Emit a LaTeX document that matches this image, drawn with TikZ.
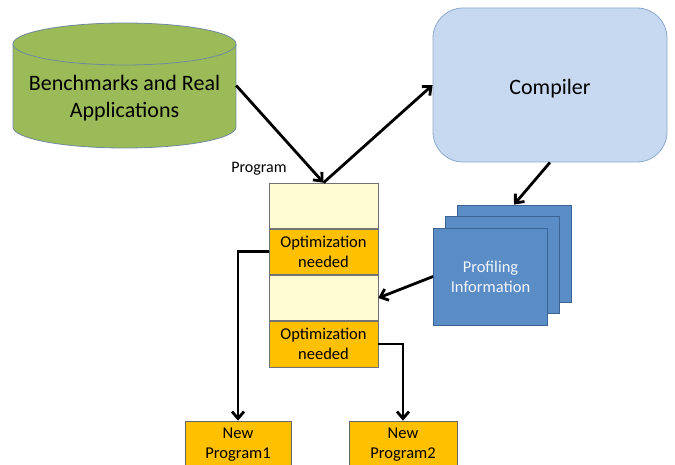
\documentclass[tikz,border=0pt]{standalone}
\usepackage{fontspec}
\setmainfont{Carlito}
\usetikzlibrary{arrows.meta,positioning}

\definecolor{benchfill}{HTML}{9BBB59}
\definecolor{benchedge}{HTML}{6F8A9C}
\definecolor{compfill}{HTML}{C6D9F1}
\definecolor{compedge}{HTML}{8DA9CC}
\definecolor{proffill}{HTML}{5A8CC6}
\definecolor{profedge}{HTML}{3A6496}
\definecolor{progfill}{HTML}{FFFBD2}
\definecolor{optfill}{HTML}{FFC000}

\tikzset{
  flow/.style={line width=2.8pt, -{Straight Barb[length=7pt,width=12pt]}},
  cell/.style={draw=black!55, line width=0.6pt, minimum width=109pt, minimum height=45.5pt,
    inner sep=0pt, align=center, font=\fontsize{16.5}{20}\selectfont},
  progcell/.style={cell, fill=progfill},
  optcell/.style={cell, fill=optfill},
  profpage/.style={draw=profedge, line width=0.8pt, fill=proffill, minimum width=114pt,
    minimum height=97pt, inner sep=0pt},
  newprog/.style={draw=black!60, line width=0.6pt, fill=optfill, minimum height=48pt,
    inner sep=0pt, align=center, font=\fontsize{16.5}{20}\selectfont}
}

\begin{document}
\begin{tikzpicture}[x=1pt,y=-1pt]
\useasboundingbox (0,0) rectangle (675,465);

% benchmark store
\fill[benchfill] (124.5,127) ellipse (111.5 and 21);
\fill[benchfill] (13,44) rectangle (236,127);
\draw[benchedge, line width=0.8pt] (13,44) -- (13,127) arc (180:0:111.5 and 21) -- (236,44);
\draw[benchedge, line width=0.8pt, fill=benchfill] (124.5,44) ellipse (111.5 and 21);
\node[minimum width=223pt, minimum height=125pt, inner sep=0pt] (bench) at (124.5,85.5) {};
\node[align=center, font=\fontsize{22}{27}\selectfont] (benchtxt) at (124.5,98)
  {Benchmarks and Real\\Applications};

% compiler
\node[draw=compedge, line width=0.8pt, fill=compfill, rounded corners=30pt,
  minimum width=234pt, minimum height=154pt, text height=23.5pt, text depth=4.5pt,
  font=\fontsize{22}{26}\selectfont] (comp) at (550,85) {Compiler};

% profile pages
\node[profpage] (prof3) at (514,253.5) {};
\node[profpage] (prof2) at (502.5,265) {};
\node[profpage, align=center, text=white!92!proffill, font=\fontsize{16.5}{20}\selectfont]
  (prof1) at (490.5,276.5) {Profiling\\Information};

% program stack
\node[progcell] (p1) at (323.5,205.75) {};
\node[optcell, below=0pt of p1] (o1) {Optimization\\needed};
\node[progcell, below=0pt of o1] (p2) {};
\node[optcell, below=0pt of p2] (o2) {Optimization\\needed};
\node[font=\fontsize{16}{19}\selectfont] (plabel) at (259,169) {Program};

% results
\node[newprog, minimum width=106pt] (np1) at (238,445) {New\\Program1};
\node[newprog, minimum width=108pt] (np2) at (403,445) {New\\Program2};

% connectors
\draw[flow] (bench.east) -- (p1.north);
\draw[flow] (p1.north) -- (comp.west);
\draw[flow] (comp.south) -- (prof3.north);
\draw[flow] (prof1.west) -- (p2.east);
\draw[flow] (o1.west) -| (np1.north);
\draw[flow] (o2.east) -| (np2.north);
\end{tikzpicture}
\end{document}
